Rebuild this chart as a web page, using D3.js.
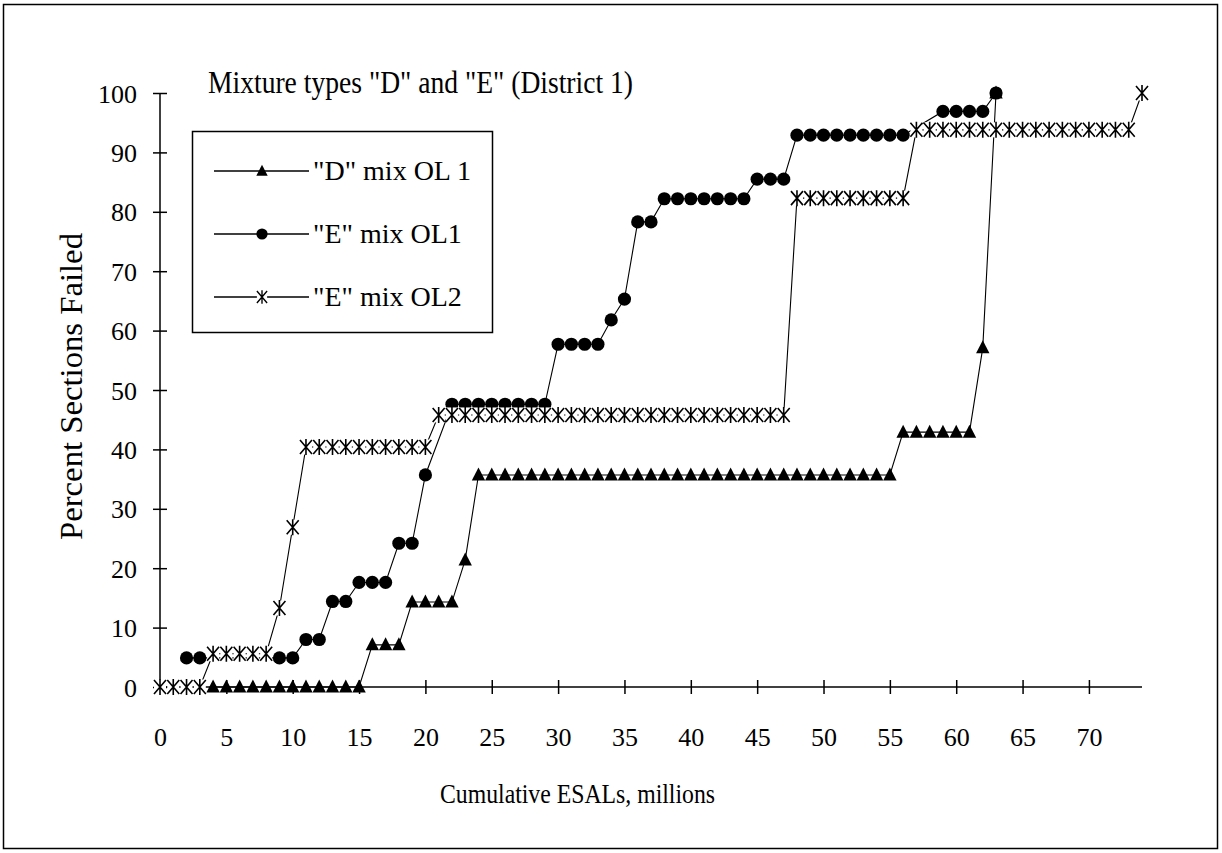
<!DOCTYPE html>
<html><head><meta charset="utf-8">
<script src="https://cdn.jsdelivr.net/npm/d3@7"></script>
<style>body{margin:0;background:#fff}svg text{font-family:"Liberation Serif","Times New Roman",serif;fill:#000}</style>
</head><body><svg id="c" width="1222" height="853"></svg>
<script>
// ---- data ----
const chartTitle = 'Mixture types "D" and "E" (District 1)';
const xAxisTitle = 'Cumulative ESALs, millions';
const yAxisTitle = 'Percent Sections Failed';
const xTickValues = [0,5,10,15,20,25,30,35,40,45,50,55,60,65,70];
const yTickValues = [0,10,20,30,40,50,60,70,80,90,100];
const seriesNames = ['"D" mix OL 1', '"E" mix OL1', '"E" mix OL2'];

const dMixX = [4,5,6,7,8,9,10,11,12,13,14,15,16,17,18,19,20,21,22,23,24,25,26,27,28,29,30,31,32,33,34,35,36,37,38,39,40,41,42,43,44,45,46,47,48,49,50,51,52,53,54,55,56,57,58,59,60,61,62,63];
const dMixY = [0,0,0,0,0,0,0,0,0,0,0,0,7.1,7.1,7.1,14.3,14.3,14.3,14.3,21.4,35.7,35.7,35.7,35.7,35.7,35.7,35.7,35.7,35.7,35.7,35.7,35.7,35.7,35.7,35.7,35.7,35.7,35.7,35.7,35.7,35.7,35.7,35.7,35.7,35.7,35.7,35.7,35.7,35.7,35.7,35.7,35.7,42.9,42.9,42.9,42.9,42.9,42.9,57.1,100];

const eMix1X = [2,3,9,10,11,12,13,14,15,16,17,18,19,20,22,23,24,25,26,27,28,29,30,31,32,33,34,35,36,37,38,39,40,41,42,43,44,45,46,47,48,49,50,51,52,53,54,55,56,59,60,61,62,63];
const eMix1Y = [4.9,4.9,4.9,4.9,8.0,8.0,14.4,14.4,17.6,17.6,17.6,24.2,24.2,35.7,47.6,47.6,47.6,47.6,47.6,47.6,47.6,47.6,57.7,57.7,57.7,57.7,61.8,65.3,78.3,78.3,82.2,82.2,82.2,82.2,82.2,82.2,82.2,85.5,85.5,85.5,92.9,92.9,92.9,92.9,92.9,92.9,92.9,92.9,92.9,96.9,96.9,96.9,96.9,100];

const eMix2X = [0,1,2,3,4,5,6,7,8,9,10,11,12,13,14,15,16,17,18,19,20,21,22,23,24,25,26,27,28,29,30,31,32,33,34,35,36,37,38,39,40,41,42,43,44,45,46,47,48,49,50,51,52,53,54,55,56,57,58,59,60,61,62,63,64,65,66,67,68,69,70,71,72,73,74];
const eMix2Y = [0,0,0,0,5.6,5.6,5.6,5.6,5.6,13.3,26.9,40.4,40.4,40.4,40.4,40.4,40.4,40.4,40.4,40.4,40.4,45.8,45.8,45.8,45.8,45.8,45.8,45.8,45.8,45.8,45.8,45.8,45.8,45.8,45.8,45.8,45.8,45.8,45.8,45.8,45.8,45.8,45.8,45.8,45.8,45.8,45.8,45.8,82.3,82.3,82.3,82.3,82.3,82.3,82.3,82.3,82.3,93.8,93.8,93.8,93.8,93.8,93.8,93.8,93.8,93.8,93.8,93.8,93.8,93.8,93.8,93.8,93.8,93.8,100];

// ---- drawing ----
const FONT = '"Liberation Serif","Times New Roman",serif';
const svg = d3.select('#c');
svg.append('rect').attr('x',0).attr('y',0).attr('width',1222).attr('height',853).attr('fill','#fff');
svg.append('rect').attr('x',3.5).attr('y',4.5).attr('width',1214).attr('height',844)
  .attr('fill','none').attr('stroke','#000').attr('stroke-width',1.5);

const x = d3.scaleLinear().domain([0,74]).range([160,1142]);
const y = d3.scaleLinear().domain([0,100]).range([687,93]);

// axes
const gy = svg.append('g').attr('transform','translate(160,0)')
  .call(d3.axisLeft(y).tickValues(yTickValues).tickSize(7).tickPadding(0))
  .attr('font-family', FONT).attr('font-size', 26);
gy.select('.domain').attr('d', `M0,${y(100)}V${y(0)}`).attr('stroke','#000').attr('stroke-width',1.5);
gy.selectAll('.tick line').attr('x1',-7).attr('x2',7).attr('stroke','#000').attr('stroke-width',1.5);
gy.selectAll('.tick text').attr('x',-23).attr('dy','0.35em').style('font-family',FONT).style('font-size','26px');

const gx = svg.append('g').attr('transform','translate(0,687)')
  .call(d3.axisBottom(x).tickValues(xTickValues).tickSize(7))
  .attr('font-family', FONT).attr('font-size', 26);
gx.select('.domain').attr('d', `M${x(0)},0H${x(74)}`).attr('stroke','#000').attr('stroke-width',1.5);
gx.selectAll('.tick line').attr('y1',-7).attr('y2',7).attr('stroke','#000').attr('stroke-width',1.5);
gx.selectAll('.tick text').attr('y',59).attr('dy',0).style('font-family',FONT).style('font-size','26px');

// titles
svg.append('text').attr('x',208).attr('y',93).style('font-size','32px')
  .attr('textLength',425).attr('lengthAdjust','spacingAndGlyphs').text(chartTitle);
svg.append('text').attr('x',440).attr('y',803).style('font-size','28px')
  .attr('textLength',275).attr('lengthAdjust','spacingAndGlyphs').text(xAxisTitle);
svg.append('text').attr('transform','translate(82,540) rotate(-90)').style('font-size','31px')
  .attr('textLength',307).attr('lengthAdjust','spacingAndGlyphs').text(yAxisTitle);

// marker drawers
function drawTriangle(g){ g.append('path').attr('d','M0,-7.5L6.7,5.5L-6.7,5.5Z').attr('fill','#000'); }
function drawCircle(g){ g.append('circle').attr('r',6.6).attr('fill','#000'); }
function drawStar(g){
  g.append('rect').attr('x',-6).attr('y',-7.5).attr('width',12).attr('height',15).attr('fill','#fff');
  g.append('path').attr('d','M0,-8V8M-6,-7L6,7M-6,7L6,-7').attr('stroke','#000').attr('stroke-width',1.6).attr('fill','none');
}

const series = [
  {name: seriesNames[0], xs: dMixX, ys: dMixY, marker: drawTriangle},
  {name: seriesNames[1], xs: eMix1X, ys: eMix1Y, marker: drawCircle},
  {name: seriesNames[2], xs: eMix2X, ys: eMix2Y, marker: drawStar}
];

const line = d3.line().x(d => x(d[0])).y(d => y(d[1]));
series.forEach(s => {
  const pts = s.xs.map((v,i) => [v, s.ys[i]]);
  svg.append('path').datum(pts).attr('d', line).attr('fill','none').attr('stroke','#000').attr('stroke-width',1.1);
  svg.append('g').selectAll('g').data(pts).join('g')
    .attr('transform', d => `translate(${x(d[0])},${y(d[1])})`)
    .each(function(){ s.marker(d3.select(this)); });
});

// legend
const lg = svg.append('g');
lg.append('rect').attr('x',192.5).attr('y',131.5).attr('width',300).attr('height',201)
  .attr('fill','#fff').attr('stroke','#000').attr('stroke-width',1.5);
const rowY = [171, 234, 297];
series.forEach((s,i) => {
  const r = lg.append('g').attr('transform',`translate(0,${rowY[i]})`);
  r.append('line').attr('x1',214).attr('x2',309).attr('stroke','#000').attr('stroke-width',1.3);
  s.marker(r.append('g').attr('transform','translate(262,0) scale(0.85)'));
  r.append('text').attr('x',313).attr('y',9).style('font-size','28px').text(s.name);
});
</script>
</body></html>
